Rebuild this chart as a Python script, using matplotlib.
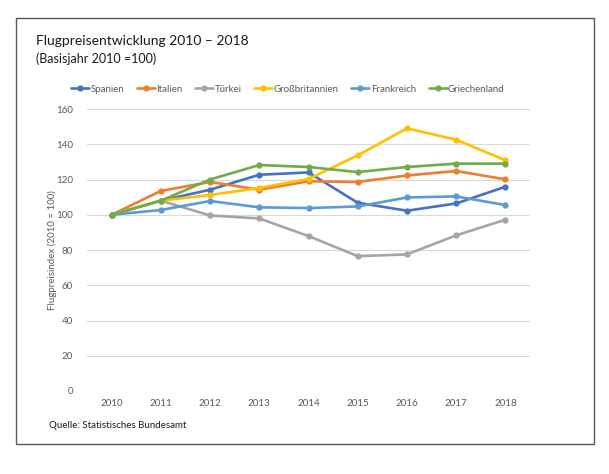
import matplotlib
matplotlib.use("Agg")
import matplotlib.pyplot as plt
from matplotlib.patches import Rectangle

plt.rcParams['font.family'] = ['Lato', 'DejaVu Sans']

years = ["2010", "2011", "2012", "2013", "2014", "2015", "2016", "2017", "2018"]
spanien = [100, 108, 114.2, 122.7, 124, 106.8, 102.3, 106.4, 115.9]
italien = [100, 113.5, 118.6, 114.2, 119, 118.6, 122.3, 124.8, 120.1]
tuerkei = [100, 108, 99.6, 97.9, 87.9, 76.5, 77.5, 88.3, 97.2]
grossbritannien = [100, 108, 111.2, 115.2, 120.3, 133.7, 149, 142.6, 130.9]
frankreich = [100, 102.7, 107.8, 104.2, 103.8, 104.7, 109.8, 110.4, 105.5]
griechenland = [100, 108, 120, 128.2, 127.1, 124.2, 127.1, 129, 129]

series = [
    ("Spanien", spanien, "#4472C4"),
    ("Italien", italien, "#ED7D31"),
    ("Türkei", tuerkei, "#A5A5A5"),
    ("Großbritannien", grossbritannien, "#FFC000"),
    ("Frankreich", frankreich, "#5B9BD5"),
    ("Griechenland", griechenland, "#70AD47"),
]
yticks = [0, 20, 40, 60, 80, 100, 120, 140, 160]

W, H = 609, 474
fig = plt.figure(figsize=(W / 100, H / 100), dpi=100)
ax = fig.add_axes([87 / W, 1 - 391 / H, (530 - 87) / W, (391 - 109) / H])

x = list(range(len(years)))
for name, vals, col in series:
    ax.plot(x, vals, color=col, lw=1.9, marker='o', markersize=3.5,
            label=name, solid_capstyle='round', solid_joinstyle='round')

ax.set_xlim(-0.5, len(years) - 0.5)
ax.set_ylim(0, 160)
ax.set_yticks(yticks)
ax.set_xticks(x)
ax.set_xticklabels(years)
ax.grid(axis='y', color='#D9D9D9', lw=0.8)
ax.set_axisbelow(True)
for s in ax.spines.values():
    s.set_visible(False)
ax.tick_params(axis='both', length=0, labelsize=7, colors='#595959', pad=6)
ax.tick_params(axis='y', pad=10)
ax.set_ylabel("Flugpreisindex (2010 = 100)", fontsize=7, color='#595959')
ax.yaxis.set_label_coords((57 - 87) / 443, 0.5)

leg = fig.legend(loc='center left', bbox_to_anchor=(71 / W, 1 - 89 / H), ncol=6,
                 frameon=False, fontsize=7, handlelength=1.85, handletextpad=0.15,
                 columnspacing=1.3, borderaxespad=0, borderpad=0)
for t in leg.get_texts():
    t.set_color('#595959')

fig.text(36 / W, 1 - 41 / H, "Flugpreisentwicklung 2010 – 2018", fontsize=10,
         color='#1a1a1a', va='center', ha='left')
fig.text(36 / W, 1 - 59 / H, "(Basisjahr 2010 =100)", fontsize=9,
         color='#1a1a1a', va='center', ha='left')
fig.text(49 / W, 1 - 425.5 / H, "Quelle: Statistisches Bundesamt", fontsize=7,
         color='#1a1a1a', va='center', ha='left')

fig.patches.append(Rectangle((15.5 / W, 1 - 443.5 / H), 578 / W, 426 / H,
                             transform=fig.transFigure, fill=False,
                             edgecolor='#595959', lw=1.0))

fig.savefig("out.png", dpi=100)
